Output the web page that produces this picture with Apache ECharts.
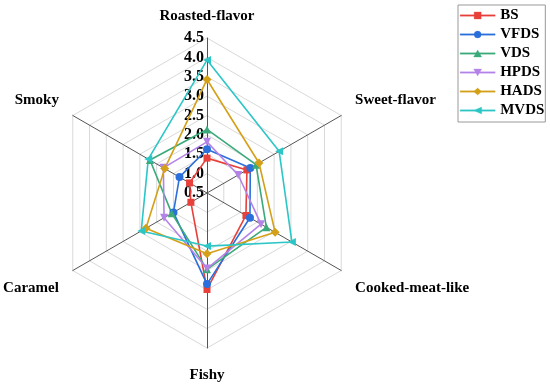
<!DOCTYPE html>
<html>
<head>
<meta charset="utf-8">
<script src="https://cdn.jsdelivr.net/npm/echarts@6/dist/echarts.min.js"></script>
<style>
html,body{margin:0;padding:0;background:#fff;}
#chart{width:550px;height:386px;}
</style>
</head>
<body>
<div id="chart"></div>
<script>
// Indicators in clockwise order starting at top
const categories = ['Roasted-flavor', 'Sweet-flavor', 'Cooked-meat-like', 'Fishy', 'Caramel', 'Smoky'];
const seriesNames = ['BS', 'VFDS', 'VDS', 'HPDS', 'HADS', 'MVDS'];
const BS   = [1.40, 1.69, 1.66, 2.99, 0.98, 1.02];
const VFDS = [1.63, 1.79, 1.78, 2.85, 1.50, 1.32];
const VDS  = [2.14, 1.96, 2.27, 2.47, 1.55, 2.20];
const HPDS = [1.82, 1.43, 2.11, 2.45, 1.78, 1.80];
const HADS = [3.43, 2.05, 2.53, 2.07, 2.32, 1.76];
const MVDS = [3.93, 2.65, 3.03, 1.87, 2.46, 2.25];
const axisMin = 0.5;
const axisMax = 4.5;

const seriesValues = [BS, VFDS, VDS, HPDS, HADS, MVDS];
const colors = ['#e8403a', '#2a6fdb', '#3aaa7a', '#b483e8', '#d4a017', '#2cc6c6'];
const symbols = ['rect', 'circle', 'triangle', 'triangle', 'diamond', 'triangle'];
const symbolRotates = [0, 0, 0, 180, 0, 90];
const symbolSizes = [7, 8, 8, 8, 9, 8];
const legendIcons = [
  'path://M0,2.8 H35 V4.2 H0 Z M14,0 H21 V7 H14 Z',
  'path://M0,2.8 H35 V4.2 H0 Z M21,3.5 A3.5,3.5 0 1,1 14,3.5 A3.5,3.5 0 1,1 21,3.5 Z',
  'path://M0,2.8 H35 V4.2 H0 Z M17.5,0 L21.5,7 L13.5,7 Z',
  'path://M0,2.8 H35 V4.2 H0 Z M13.5,0 L21.5,0 L17.5,7 Z',
  'path://M0,2.8 H35 V4.2 H0 Z M17.5,0 L21.5,3.5 L17.5,7 L13.5,3.5 Z',
  'path://M0,2.8 H35 V4.2 H0 Z M13.5,3.5 L21.5,0 L21.5,7 Z'
];

const font = "'Liberation Serif', 'Times New Roman', serif";

// ECharts radar lays indicators counter-clockwise: reorder
const order = [0, 5, 4, 3, 2, 1];
const upper = ['Sweet-flavor', 'Smoky'];
const lower = ['Cooked-meat-like', 'Caramel'];

const indicator = order.map((k, i) => {
  const o = { name: categories[k], min: axisMin, max: axisMax };
  if (i === 0) {
    o.nameGap = 13;
    o.axisLabel = {
      show: true, color: '#000', fontFamily: font, fontWeight: 'bold', fontSize: 16,
      margin: 3,
      formatter: v => Number(v).toFixed(1), showMinLabel: true, showMaxLabel: true
    };
  }
  return o;
});

const series = seriesNames.map((n, s) => ({
  type: 'radar',
  name: n,
  symbol: symbols[s],
  symbolRotate: symbolRotates[s],
  symbolSize: symbolSizes[s],
  itemStyle: { color: colors[s] },
  lineStyle: { color: colors[s], width: 1.6 },
  data: [{ name: n, value: order.map(k => seriesValues[s][k]) }]
}));

const chart = echarts.init(document.getElementById('chart'), null, { renderer: 'canvas' });
chart.setOption({
  animation: false,
  backgroundColor: '#fff',
  legend: {
    orient: 'vertical', left: 458, top: 5,
    itemWidth: 35, itemHeight: 7, itemGap: 2,
    padding: [2, 1, 3, 2],
    borderColor: '#999', borderWidth: 1,
    textStyle: { fontFamily: font, fontWeight: 'bold', fontSize: 15, color: '#000', lineHeight: 17 },
    data: seriesNames.map((n, i) => ({
      name: n, icon: legendIcons[i],
      itemStyle: { color: colors[i], borderColor: colors[i], borderWidth: 0.3 }
    }))
  },
  radar: {
    center: [207, 193],
    radius: 155,
    startAngle: 90,
    splitNumber: 8,
    shape: 'polygon',
    nameGap: 16,
    axisName: {
      color: '#000', fontFamily: font, fontWeight: 'bold', fontSize: 15,
      formatter: function (name) {
        if (upper.indexOf(name) >= 0) return '{n|' + name + '}\n{up| }';
        if (lower.indexOf(name) >= 0) return '{lo| }\n{n|' + name + '}';
        if (name === 'Fishy') return '{fi| }\n{n|' + name + '}';
        return '{n|' + name + '}';
      },
      rich: {
        n: { fontFamily: font, fontWeight: 'bold', fontSize: 15, color: '#000', lineHeight: 17 },
        up: { fontSize: 10, lineHeight: 14 },
        lo: { fontSize: 10, lineHeight: 19 },
        fi: { fontSize: 4, lineHeight: 3 }
      }
    },
    axisLine: { lineStyle: { color: '#555', width: 1 } },
    axisTick: { show: false },
    axisLabel: { show: false },
    splitLine: { lineStyle: { color: '#d9d9d9', width: 1 } },
    splitArea: { show: false },
    indicator: indicator
  },
  series: series
});
</script>
</body>
</html>
